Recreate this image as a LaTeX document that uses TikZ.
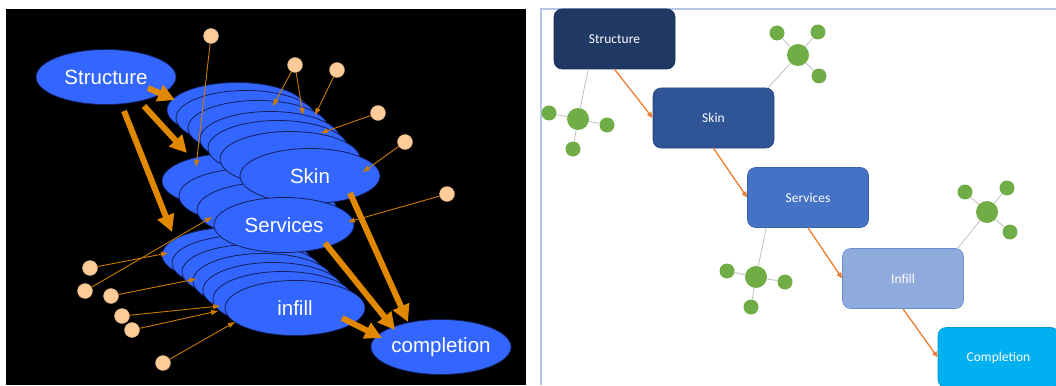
\documentclass[tikz,border=0pt]{standalone}
\usepackage{fontspec}
\setmainfont{Liberation Sans}
\newfontfamily\cardfont{Carlito}
\usetikzlibrary{shapes.geometric,arrows.meta}
\definecolor{blobblue}{RGB}{51,102,255}
\definecolor{blobedge}{RGB}{20,30,90}
\definecolor{amber}{RGB}{224,136,0}
\definecolor{peach}{RGB}{255,204,153}
\definecolor{navy}{RGB}{31,56,100}
\definecolor{skinblue}{RGB}{47,85,151}
\definecolor{servblue}{RGB}{68,114,196}
\definecolor{infblue}{RGB}{143,170,220}
\definecolor{cyanbox}{RGB}{0,176,240}
\definecolor{leafgreen}{RGB}{112,173,71}
\definecolor{twiggray}{RGB}{191,191,191}
\definecolor{rust}{RGB}{237,125,49}
\definecolor{frameblue}{RGB}{180,199,231}
\begin{document}
\begin{tikzpicture}[x=1pt,y=-1pt,>=latex,
  blob/.style={ellipse,fill=blobblue,draw=blobedge,line width=.8pt,minimum width=140pt,minimum height=55pt,inner sep=0pt,text=white,font=\fontsize{20.5}{24}\selectfont},
  bead/.style={circle,fill=peach,draw=peach!80!black,line width=.4pt,minimum size=15pt,inner sep=0pt},
  push/.style={amber,line width=6pt,-{Triangle[width=17pt,length=17pt]}},
  feed/.style={amber!90!black,line width=.9pt,-{Triangle[width=5pt,length=7pt]}},
  card/.style={rounded corners=8pt,minimum width=121pt,minimum height=60pt,inner sep=0pt,line width=.6pt,text=white,font=\cardfont\fontsize{13.5}{16}\selectfont},
  link/.style={rust,line width=1.3pt,-{Triangle[width=5pt,length=6pt]}},
  hub/.style={circle,fill=leafgreen,minimum size=22pt,inner sep=0pt},
  sat/.style={circle,fill=leafgreen,minimum size=15pt,inner sep=0pt},
  twig/.style={twiggray,line width=.8pt}]
\useasboundingbox (0,0) rectangle (1056,385);
\begin{scope}
\fill[black] (6,9) rectangle (526,385);
\foreach \x/\y [count=\i] in {232/255,242/263,252/272,263/281,273/290,283/299}
  \node[blob] (in\i) at (\x,\y) {};
\node[blob] (in) at (295,308) {infill};
\foreach \x/\y [count=\i] in {232/181,249/196,267/210}
  \node[blob] (sv\i) at (\x,\y) {};
\foreach \x/\y [count=\i] in {237/110,246/118,258/128,270/139,278/148,290/159}
  \node[blob] (sk\i) at (\x,\y) {};
\node[blob] (sk) at (310,176) {Skin};
\node[blob] (sv) at (284,225) {Services};
\node[blob] (st) at (106,77) {Structure};
\node[blob] (cp) at (441,347) {completion};
\foreach \n/\bx/\by/\tx/\ty in {1/211/36/196/167,2/295/65/273/106,3/337/70/315/115,4/378/113/321/133,5/405/142/363/172,6/447/194/348/222,7/90/268/168/253,8/85/291/212/217,9/111/296/196/279,10/122/316/220/306,11/132/330/218/311,12/163/363/235/322}{
  \node[bead] (b\n) at (\bx,\by) {};
  \coordinate (t\n) at (\tx,\ty);
  \draw[feed] (b\n) -- (t\n);}
\coordinate (t13) at (303,115);
\draw[feed] (b2) -- (t13);
\foreach \ax/\ay/\bx/\by [count=\i] in {148/88/175/100,144/106/187/153,124/111/172/232,350/193/408/322,325/243/395/330,342/318/382/338}{
  \coordinate (u\i) at (\ax,\ay);
  \coordinate (v\i) at (\bx,\by);
  \draw[push] (u\i) -- (v\i);}
\end{scope}
\begin{scope}
\draw[frameblue,line width=1.2pt] (541,385) -- (541,9) -- (1056,9);
\clip (541,9) rectangle (1056,385);
\node[card,fill=navy,draw=navy!85!black] (bst) at (614.5,39) {Structure};
\node[card,fill=skinblue,draw=skinblue!85!black] (bsk) at (713.5,118) {Skin};
\node[card,fill=servblue,draw=servblue!85!black] (bsv) at (808,197.5) {Services};
\node[card,fill=infblue,draw=servblue!80] (bin) at (903,278.5) {Infill};
\node[card,fill=cyanbox,draw=cyanbox!85!black] (bcp) at (998.5,357.5) {Completion};
\draw[link] (bst.south) -- (bsk.west);
\draw[link] (bsk.south) -- (bsv.west);
\draw[link] (bsv.south) -- (bin.west);
\draw[link] (bin.south) -- (bcp.west);
\node[hub] (m1) at (578,119) {};
\foreach \x/\y [count=\i] in {549/113,607/125,573/149}{
  \node[sat] (m1\i) at (\x,\y) {}; \draw[twig] (m1) -- (m1\i);}
\draw[twig] (bst.-131.5) -- (m1);
\node[hub] (m2) at (798,55) {};
\foreach \x/\y [count=\i] in {777/33,818/32,819/76}{
  \node[sat] (m2\i) at (\x,\y) {}; \draw[twig] (m2) -- (m2\i);}
\draw[twig] (bsk.29.7) -- (m2);
\node[hub] (m3) at (756,277) {};
\foreach \x/\y [count=\i] in {727/271,785/282,751/307}{
  \node[sat] (m3\i) at (\x,\y) {}; \draw[twig] (m3) -- (m3\i);}
\draw[twig] (bsv.-144.6) -- (m3);
\node[hub] (m4) at (987,212) {};
\foreach \x/\y [count=\i] in {965/192,1007/188,1010/232}{
  \node[sat] (m4\i) at (\x,\y) {}; \draw[twig] (m4) -- (m4\i);}
\draw[twig] (bin.29) -- (m4);
\end{scope}
\end{tikzpicture}
\end{document}
